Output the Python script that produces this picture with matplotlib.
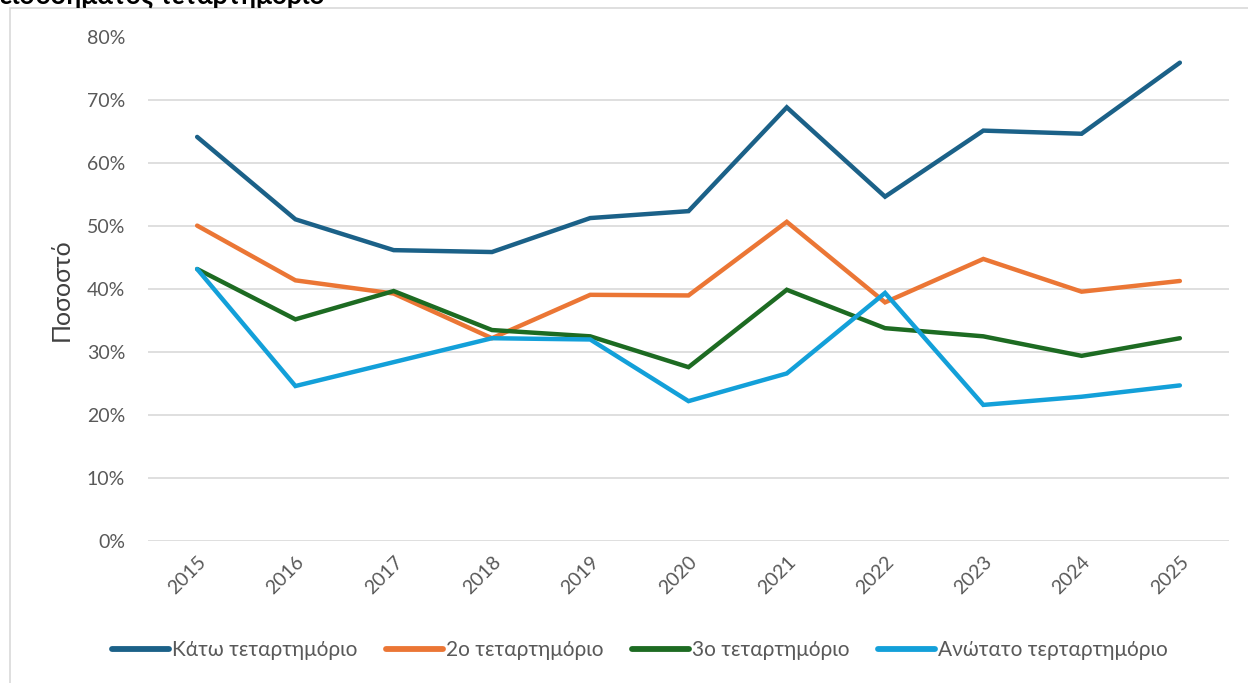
import matplotlib
matplotlib.use('Agg')
import matplotlib.pyplot as plt
from matplotlib.patches import Rectangle
from matplotlib.ticker import PercentFormatter

plt.rcParams['font.family'] = ['Lato', 'DejaVu Sans']

# Δεδομένα
etos = ['2015', '2016', '2017', '2018', '2019', '2020', '2021', '2022', '2023', '2024', '2025']
kato = [64.2, 51.1, 46.2, 45.9, 51.3, 52.4, 68.9, 54.7, 65.2, 64.7, 76.0]
deutero = [50.1, 41.4, 39.3, 32.2, 39.1, 39.0, 50.7, 37.9, 44.8, 39.6, 41.3]
trito = [43.2, 35.2, 39.7, 33.5, 32.5, 27.6, 39.9, 33.8, 32.5, 29.4, 32.2]
anotato = [43.2, 24.6, 28.4, 32.2, 32.0, 22.2, 26.6, 39.4, 21.6, 22.9, 24.7]

onomata = ['Κάτω τεταρτημόριο', '2ο τεταρτημόριο', '3ο τεταρτημόριο', 'Ανώτατο τερταρτημόριο']
xromata = ['#1B6188', '#EB7635', '#1D6B22', '#13A0D9']

W, H = 1248, 683
fig = plt.figure(figsize=(W / 100, H / 100), dpi=100)

# πλαίσιο γραφήματος
fig.patches.append(Rectangle((10 / W, -0.1), 1.2, 1 - 8 / H + 0.1, transform=fig.transFigure,
                             fill=False, edgecolor='#d9d9d9', linewidth=1.2))

# κομμένος τίτλος στο πάνω μέρος
fig.text(0.0, 1 - 3.5 / H, 'εισοδήματος τεταρτημόριο', fontsize=19, fontweight='bold',
         ha='left', va='baseline', color='black')

ax = fig.add_axes([148 / W, (H - 540.8) / H, 1081 / W, 503.3 / H])

x = list(range(len(etos)))
for seira, onoma, xroma in zip([kato, deutero, trito, anotato], onomata, xromata):
    ax.plot(x, [v / 100 for v in seira], color=xroma, linewidth=3.2,
            solid_capstyle='round', solid_joinstyle='miter', label=onoma)

ax.set_xlim(-0.5, len(etos) - 0.5)
ax.set_ylim(0, 0.8)
ax.set_yticks([i / 10 for i in range(9)])
ax.yaxis.set_major_formatter(PercentFormatter(1.0, decimals=0))
ax.set_xticks(x)
ax.set_xticklabels(etos, rotation=45, ha='right', va='top', rotation_mode='anchor')

ax.grid(axis='y', color='#d9d9d9', linewidth=1.2)
ax.set_axisbelow(True)
for s in ax.spines.values():
    s.set_visible(False)
ax.tick_params(axis='both', length=0, labelsize=14, colors='#595959')
ax.tick_params(axis='y', pad=16.5)
ax.tick_params(axis='x', pad=9)

ax.set_ylabel('Ποσοστό', fontsize=18, color='#404040', labelpad=10)

leg = ax.legend(loc='center', bbox_to_anchor=(640 / W, (H - 650) / H), bbox_transform=fig.transFigure,
                ncol=4, frameon=False, fontsize=15, handlelength=2.7, handletextpad=0.15,
                columnspacing=1.4)
for t in leg.get_texts():
    t.set_color('#595959')
for l in leg.get_lines():
    l.set_linewidth(4.2)
    l.set_solid_capstyle('round')

fig.savefig('out.png', dpi=100)
